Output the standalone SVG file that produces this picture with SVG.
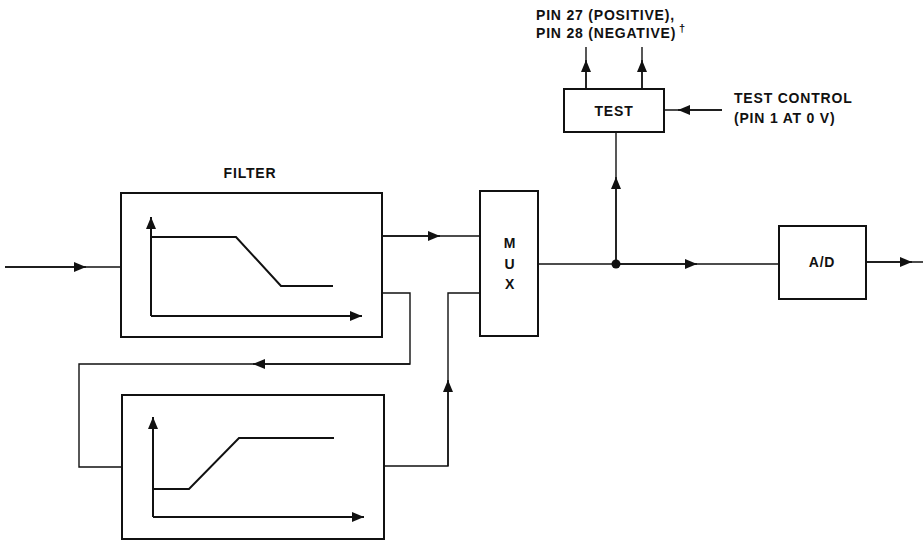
<svg xmlns="http://www.w3.org/2000/svg" width="923" height="541" viewBox="0 0 923 541">
<defs>
<marker id="ah" viewBox="0 0 12 10" refX="12" refY="5" markerWidth="12" markerHeight="10" markerUnits="userSpaceOnUse" orient="auto">
<path d="M0,0 L12,5 L0,10 Z" fill="#111"/>
</marker>
</defs>
<style>
.box{fill:#fff;stroke:#111;stroke-width:2}
.ln{fill:none;stroke:#111;stroke-width:1.4}
.ax{fill:none;stroke:#111;stroke-width:2}
.t{font-family:"Liberation Sans",Arial,sans-serif;font-weight:bold;font-size:14px;letter-spacing:0.8px;fill:#111}
</style>
<rect width="923" height="541" fill="#fff"/>
<g id="connectors">
<path class="ln" d="M5,267 H121"/>
<path class="ln" d="M5,267 H86" marker-end="url(#ah)"/>
<path class="ln" d="M382,236 H480"/>
<path class="ln" d="M382,236 H440" marker-end="url(#ah)"/>
<path class="ln" d="M382,293 H410 V364 H79 V467 H122"/>
<path class="ln" d="M410,364 H253" marker-end="url(#ah)"/>
<path class="ln" d="M384,466 H448 V293 H480"/>
<path class="ln" d="M448,466 V380" marker-end="url(#ah)"/>
<path class="ln" d="M538,264 H779"/>
<path class="ln" d="M616,264 H697" marker-end="url(#ah)"/>
<circle cx="616" cy="264" r="4.5" fill="#111"/>
<path class="ln" d="M616,264 V132"/>
<path class="ln" d="M616,264 V177" marker-end="url(#ah)"/>
<path class="ln" d="M866,262 H923"/>
<path class="ln" d="M866,262 H912" marker-end="url(#ah)"/>
<path class="ln" d="M586,89 V47"/>
<path class="ln" d="M586,89 V60" marker-end="url(#ah)"/>
<path class="ln" d="M642,89 V47"/>
<path class="ln" d="M642,89 V60" marker-end="url(#ah)"/>
<path class="ln" d="M722,110 H664"/>
<path class="ln" d="M722,110 H678" marker-end="url(#ah)"/>
</g>
<g id="filter1">
<rect class="box" x="121" y="193" width="261" height="144"/>
<path class="ax" d="M151,316 V217" marker-end="url(#ah)"/>
<path class="ax" d="M151,316 H362" marker-end="url(#ah)"/>
<path class="ax" d="M150,237 H236 L281,286 H333"/>
</g>
<g id="filter2">
<rect class="box" x="122" y="395" width="262" height="144"/>
<path class="ax" d="M153,517 V417" marker-end="url(#ah)"/>
<path class="ax" d="M153,517 H364" marker-end="url(#ah)"/>
<path class="ax" d="M153,489 H189 L239,438 H334"/>
</g>
<g id="filter-label">
<text class="t" x="250" y="178" text-anchor="middle">FILTER</text>
</g>
<g id="mux">
<rect class="box" x="480" y="191" width="58" height="145"/>
<text class="t" x="510" y="248" text-anchor="middle">M</text>
<text class="t" x="510" y="269" text-anchor="middle">U</text>
<text class="t" x="510" y="289" text-anchor="middle">X</text>
</g>
<g id="test">
<rect class="box" x="564" y="89" width="100" height="43"/>
<text class="t" x="614" y="116" text-anchor="middle">TEST</text>
</g>
<g id="ad">
<rect class="box" x="779" y="226" width="87" height="73"/>
<text class="t" x="822" y="267" text-anchor="middle">A/D</text>
</g>
<g id="pins-label">
<text class="t" x="536" y="20">PIN 27 (POSITIVE),</text>
<text class="t" x="536" y="38">PIN 28 (NEGATIVE)</text>
<text class="t" x="679" y="32" style="font-size:11px">†</text>
</g>
<g id="test-control-label">
<text class="t" x="734" y="103">TEST CONTROL</text>
<text class="t" x="734" y="123">(PIN 1 AT 0 V)</text>
</g>
</svg>
